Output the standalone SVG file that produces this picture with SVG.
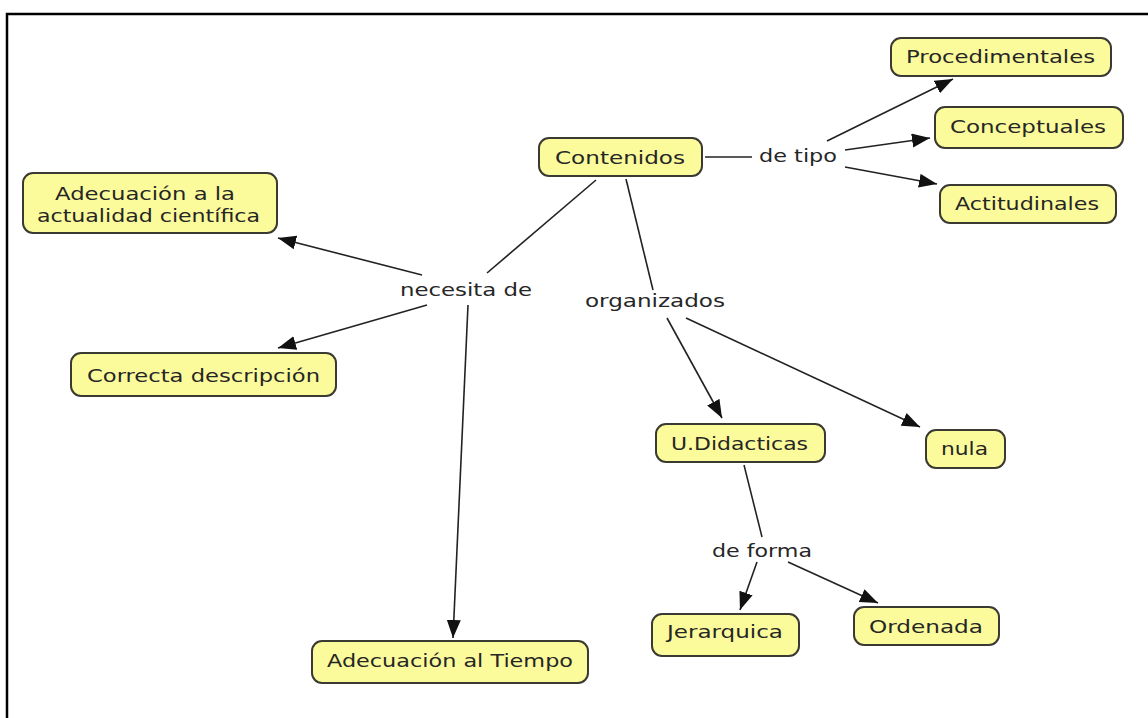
<svg xmlns="http://www.w3.org/2000/svg" width="1148" height="718" viewBox="0 0 1148 718">
<style>
.box{fill:#fbfb9b;stroke:#3a3a32;stroke-width:2}
.t{font-family:"DejaVu Sans","Liberation Sans",sans-serif;font-size:18px;fill:#262626}
.c{stroke:#222;stroke-width:1.6;fill:none}
.a{marker-end:url(#arr)}
</style>
<defs>
<marker id="arr" markerUnits="userSpaceOnUse" markerWidth="20" markerHeight="16" refX="18" refY="7" orient="auto">
<path d="M0,0 L18,7 L0,14 z" fill="#111"/>
</marker>
</defs>
<rect width="1148" height="718" fill="#fff"/>
<polyline points="7,718 7,14 1148,14" fill="none" stroke="#000" stroke-width="2.5"/>

<g id="connectors">
<line class="c" x1="705" y1="157" x2="752" y2="157"/>
<line class="c a" x1="827" y1="141" x2="953" y2="79"/>
<line class="c a" x1="845" y1="150" x2="930" y2="138"/>
<line class="c a" x1="845" y1="167" x2="937" y2="184"/>
<line class="c" x1="596" y1="180" x2="487" y2="273"/>
<line class="c a" x1="422" y1="275" x2="278" y2="238"/>
<line class="c a" x1="427" y1="305" x2="278" y2="348"/>
<line class="c a" x1="468" y1="305" x2="453" y2="638"/>
<line class="c" x1="626" y1="179" x2="653" y2="290"/>
<line class="c a" x1="667" y1="318" x2="722" y2="418"/>
<line class="c a" x1="686" y1="318" x2="920" y2="427"/>
<line class="c" x1="744" y1="465" x2="762" y2="537"/>
<line class="c a" x1="757" y1="562" x2="740" y2="610"/>
<line class="c a" x1="788" y1="562" x2="878" y2="603"/>
</g>

<g id="link-de-tipo"><text class="t" x="759" y="162" textLength="78" lengthAdjust="spacingAndGlyphs">de tipo</text></g>
<g id="link-necesita-de"><text class="t" x="400" y="296" textLength="132" lengthAdjust="spacingAndGlyphs">necesita de</text></g>
<g id="link-organizados"><text class="t" x="585" y="307" textLength="140" lengthAdjust="spacingAndGlyphs">organizados</text></g>
<g id="link-de-forma"><text class="t" x="712" y="557" textLength="100" lengthAdjust="spacingAndGlyphs">de forma</text></g>

<g id="n-contenidos"><rect class="box" x="539" y="138" width="163" height="38" rx="10"/><text class="t" x="555" y="164" textLength="130" lengthAdjust="spacingAndGlyphs">Contenidos</text></g>
<g id="n-procedimentales"><rect class="box" x="891" y="38" width="220" height="38" rx="10"/><text class="t" x="906" y="63" textLength="189" lengthAdjust="spacingAndGlyphs">Procedimentales</text></g>
<g id="n-conceptuales"><rect class="box" x="935" y="107" width="188" height="41" rx="10"/><text class="t" x="950" y="133" textLength="156" lengthAdjust="spacingAndGlyphs">Conceptuales</text></g>
<g id="n-actitudinales"><rect class="box" x="940" y="185" width="176" height="38" rx="10"/><text class="t" x="955" y="210" textLength="144" lengthAdjust="spacingAndGlyphs">Actitudinales</text></g>
<g id="n-actualidad"><rect class="box" x="23" y="173" width="254" height="60" rx="10"/><text class="t" x="55" y="200" textLength="180" lengthAdjust="spacingAndGlyphs">Adecuación a la</text><text class="t" x="37" y="222" textLength="223" lengthAdjust="spacingAndGlyphs">actualidad científica</text></g>
<g id="n-correcta"><rect class="box" x="71" y="353" width="265" height="43" rx="10"/><text class="t" x="87" y="382" textLength="233" lengthAdjust="spacingAndGlyphs">Correcta descripción</text></g>
<g id="n-tiempo"><rect class="box" x="312" y="641" width="276" height="42" rx="10"/><text class="t" x="327" y="667" textLength="246" lengthAdjust="spacingAndGlyphs">Adecuación al Tiempo</text></g>
<g id="n-udidacticas"><rect class="box" x="656" y="424" width="169" height="38" rx="10"/><text class="t" x="671" y="450" textLength="137" lengthAdjust="spacingAndGlyphs">U.Didacticas</text></g>
<g id="n-nula"><rect class="box" x="926" y="430" width="79" height="38" rx="10"/><text class="t" x="941" y="455" textLength="47" lengthAdjust="spacingAndGlyphs">nula</text></g>
<g id="n-jerarquica"><rect class="box" x="652" y="614" width="147" height="42" rx="10"/><text class="t" x="667" y="638" textLength="116" lengthAdjust="spacingAndGlyphs">Jerarquica</text></g>
<g id="n-ordenada"><rect class="box" x="854" y="607" width="145" height="38" rx="10"/><text class="t" x="869" y="633" textLength="114" lengthAdjust="spacingAndGlyphs">Ordenada</text></g>
</svg>
